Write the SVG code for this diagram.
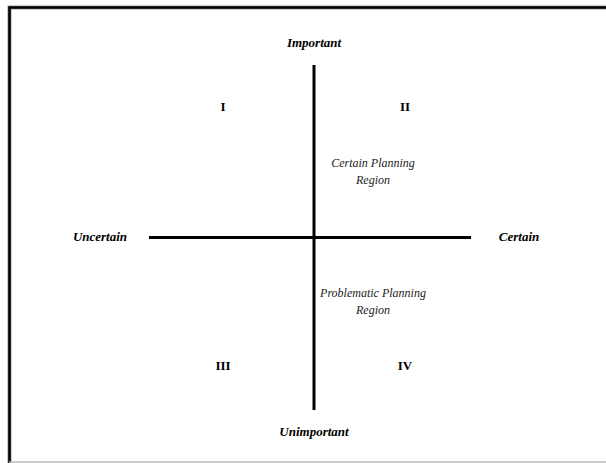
<svg xmlns="http://www.w3.org/2000/svg" width="606" height="463" viewBox="0 0 606 463">
<style>
.ax{stroke:#000;stroke-width:3;fill:none}
.lb{font-family:'Liberation Serif','Times New Roman','DejaVu Serif',serif;font-size:13px;font-weight:bold;font-style:italic;fill:#000;text-anchor:middle}
.q{font-family:'Liberation Serif','Times New Roman','DejaVu Serif',serif;font-size:13px;font-weight:bold;fill:#000;text-anchor:middle}
.r{font-family:'Liberation Serif','Times New Roman','DejaVu Serif',serif;font-size:12px;font-style:italic;fill:#222;text-anchor:middle}
</style>
<rect width="606" height="463" fill="#fff"/>
<g id="frame">
<path d="M9.5 463 V7.5 H606" stroke="#999" stroke-width="4" fill="none"/>
<path d="M9.5 463 V7.5 H606" stroke="#000" stroke-width="2.5" fill="none"/>
<line x1="9" y1="462" x2="606" y2="462" stroke="#bbb" stroke-width="1.5"/>
</g>
<g id="connectors">
<line class="ax" x1="314" y1="65" x2="314" y2="410"/>
<line class="ax" x1="149" y1="237.5" x2="471" y2="237.5"/>
</g>
<g id="important"><text class="lb" x="314" y="47">Important</text></g>
<g id="unimportant"><text class="lb" x="314" y="436">Unimportant</text></g>
<g id="uncertain"><text class="lb" x="100" y="241">Uncertain</text></g>
<g id="certain"><text class="lb" x="519" y="241">Certain</text></g>
<g id="q1"><text class="q" x="223" y="111">I</text></g>
<g id="q2"><text class="q" x="405" y="111">II</text></g>
<g id="q3"><text class="q" x="223" y="370">III</text></g>
<g id="q4"><text class="q" x="405" y="370">IV</text></g>
<g id="certain-region"><text class="r" x="373" y="167">Certain Planning</text><text class="r" x="373" y="184">Region</text></g>
<g id="problematic-region"><text class="r" x="373" y="297">Problematic Planning</text><text class="r" x="373" y="314">Region</text></g>
</svg>
